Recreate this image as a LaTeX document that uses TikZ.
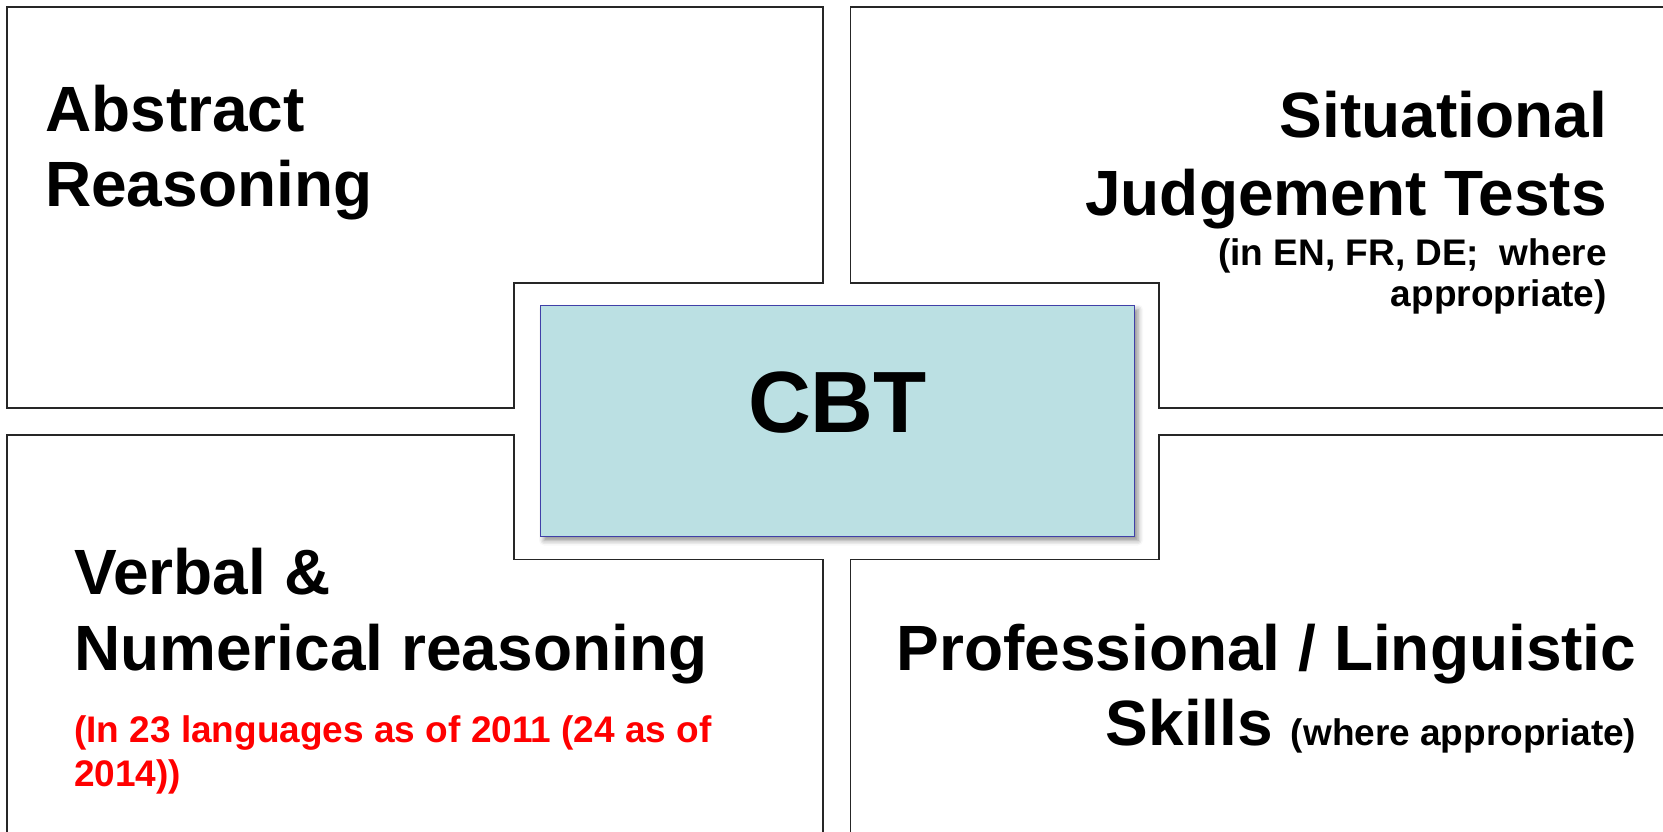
\documentclass[tikz,border=0pt]{standalone}
\usepackage{fontspec}
\setmainfont{Liberation Sans}
\usetikzlibrary{shadows.blur}
\definecolor{boxfill}{RGB}{187,224,227}
\definecolor{boxline}{RGB}{64,64,168}

\begin{document}
\begin{tikzpicture}[x=1pt,y=-1pt,
    panel/.style={draw=black!85,line width=1.4pt},
    headtxt/.style={font=\fontsize{64}{75}\selectfont\bfseries,inner sep=0pt},
    notetxt/.style={font=\fontsize{37}{42}\selectfont\bfseries,inner sep=0pt}]
    \useasboundingbox (0,0) rectangle (1663,832);
    % the four panels round the centre
    \draw[panel] (7,7) -- (823,7) -- (823,283) -- (514,283) -- (514,408) -- (7,408) -- cycle;
    \draw[panel] (1680,7) -- (850.5,7) -- (850.5,283) -- (1159,283) -- (1159,408) -- (1680,408);
    \draw[panel] (823,850) -- (823,559.5) -- (514,559.5) -- (514,435) -- (7,435) -- (7,850);
    \draw[panel] (850.5,850) -- (850.5,559.5) -- (1159,559.5) -- (1159,435) -- (1680,435);
    % centre box
    \node[draw=boxline,line width=1pt,fill=boxfill,minimum width=594pt,minimum height=231pt,
      inner sep=0pt,blur shadow={shadow xshift=4pt,shadow yshift=-4pt,shadow blur radius=5pt,shadow opacity=45}]
      (box) at (837,421) {};
    \node[anchor=base,inner sep=0pt,font=\fontsize{87}{100}\selectfont\bfseries] (cbt) at (837.5,432) {CBT};
    % top left
    \node[headtxt,anchor=base west] (abs1) at (45,131.5) {Abstract};
    \node[headtxt,anchor=base west] (abs2) at (45,206.5) {Reasoning};
    % top right
    \node[headtxt,anchor=base east] (sit1) at (1607,138) {Situational};
    \node[headtxt,anchor=base east] (sit2) at (1607,215) {Judgement Tests};
    \node[notetxt,anchor=base east] (sit3) at (1607,265) {(in EN, FR, DE;\ \ where};
    \node[notetxt,anchor=base east] (sit4) at (1607,306) {appropriate)};
    % bottom left
    \node[headtxt,anchor=base west] (verb1) at (74,594) {Verbal \&};
    \node[headtxt,anchor=base west] (verb2) at (74,670) {Numerical reasoning};
    \node[notetxt,anchor=base west,red] (verb3) at (74,742.5) {(In 23 languages as of 2011 (24 as of};
    \node[notetxt,anchor=base west,red] (verb4) at (74,786) {2014))};
    % bottom right
    \node[headtxt,anchor=base east] (prof1) at (1636.5,670) {Professional / Linguistic};
    \node[headtxt,anchor=base east] (prof2) at (1636.5,745.5) {Skills {\fontsize{37}{42}\selectfont (where appropriate)}};
\end{tikzpicture}
\end{document}
